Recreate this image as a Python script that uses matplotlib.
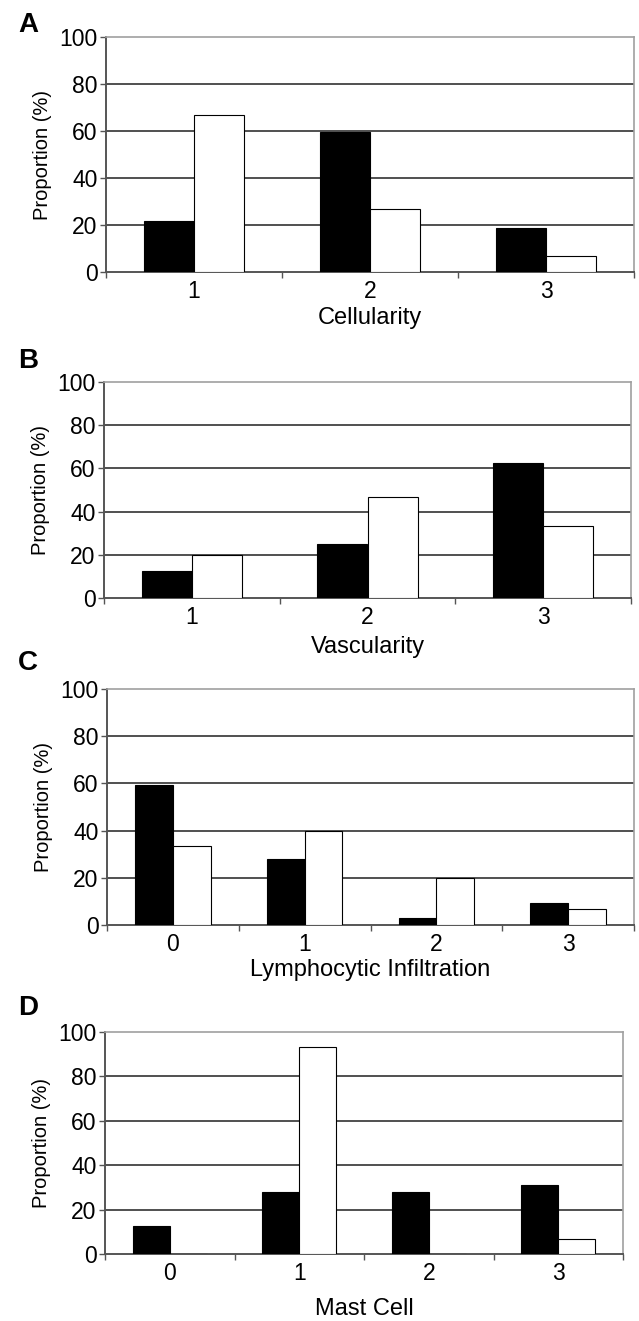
import numpy as np
import matplotlib
matplotlib.use("Agg")
import matplotlib.pyplot as plt

plt.rcParams['font.family'] = ['Liberation Sans', 'DejaVu Sans']

# Werte der vier Panels (schwarz / weiss), in Prozent
cellularity_cats = ["1", "2", "3"]
cellularity_black = [21.9, 59.4, 18.8]
cellularity_white = [66.7, 26.7, 6.7]

vascularity_cats = ["1", "2", "3"]
vascularity_black = [12.5, 25.0, 62.5]
vascularity_white = [20.0, 46.7, 33.3]

lymph_cats = ["0", "1", "2", "3"]
lymph_black = [59.4, 28.1, 3.1, 9.4]
lymph_white = [33.3, 40.0, 20.0, 6.7]

mast_cats = ["0", "1", "2", "3"]
mast_black = [12.5, 28.1, 28.1, 31.3]
mast_white = [0.0, 93.3, 0.0, 6.7]

yticks = [0, 20, 40, 60, 80, 100]

W, H = 639, 1321
fig = plt.figure(figsize=(W / 100, H / 100), dpi=100)

# (Buchstabe, Kategorien, schwarz, weiss, x-Titel, Pixelbox l, r, oben, unten, Buchstabe-y, labelpad)
panels = [
    ("A", cellularity_cats, cellularity_black, cellularity_white, "Cellularity",
     106, 634, 37, 272, 25, 3),
    ("B", vascularity_cats, vascularity_black, vascularity_white, "Vascularity",
     104, 631, 382, 598, 361, 5),
    ("C", lymph_cats, lymph_black, lymph_white, "Lymphocytic Infiltration",
     107, 634, 689, 925, 663, 2),
    ("D", mast_cats, mast_black, mast_white, "Mast Cell",
     105, 623, 1032, 1254, 1008, 9),
]

bw = 1 / 3.5  # Balkenbreite (Excel gap width 150%)

for letter, cats, black, white, xlab, l, r, t, b, ly, lp in panels:
    ax = fig.add_axes([l / W, 1 - b / H, (r - l) / W, (b - t) / H])
    x = np.arange(len(cats))
    ax.bar(x - bw / 2, black, bw, color="black", edgecolor="black", linewidth=0.8, zorder=3)
    ax.bar(x + bw / 2, white, bw, color="white", edgecolor="black", linewidth=0.8, zorder=3)

    ax.set_xlim(-0.5, len(cats) - 0.5)
    ax.set_ylim(0, 100)
    ax.set_yticks(yticks)
    ax.set_yticklabels([str(v) for v in yticks], fontsize=16.5)

    # Kategorien als Minor-Labels, Ticks an den Grenzen
    ax.set_xticks(np.arange(len(cats) + 1) - 0.5)
    ax.set_xticklabels([])
    ax.set_xticks(x, minor=True)
    ax.set_xticklabels(cats, minor=True, fontsize=16.5)
    ax.tick_params(axis="x", which="minor", length=0, pad=6)
    ax.tick_params(axis="x", which="major", length=4, width=1, color="#555555")
    ax.tick_params(axis="y", length=4, width=1, color="#555555", pad=2)

    ax.yaxis.grid(True, color="#505050", linewidth=1.4, zorder=0)
    ax.set_axisbelow(True)
    gl = ax.get_ygridlines()
    gl[0].set_visible(False)
    gl[-1].set_visible(False)

    for side in ["left", "bottom"]:
        ax.spines[side].set_color("#555555")
        ax.spines[side].set_linewidth(1.4)
    for side in ["top", "right"]:
        ax.spines[side].set_color("#a0a0a0")
        ax.spines[side].set_linewidth(1.2)

    ax.set_ylabel("Proportion (%)", fontsize=14.5, labelpad=5)
    ax.set_xlabel(xlab, fontsize=17, labelpad=lp)

    fig.text(28 / W, 1 - ly / H, letter, fontsize=20, fontweight="bold",
             ha="center", va="center")

fig.savefig("out.png", dpi=100)
